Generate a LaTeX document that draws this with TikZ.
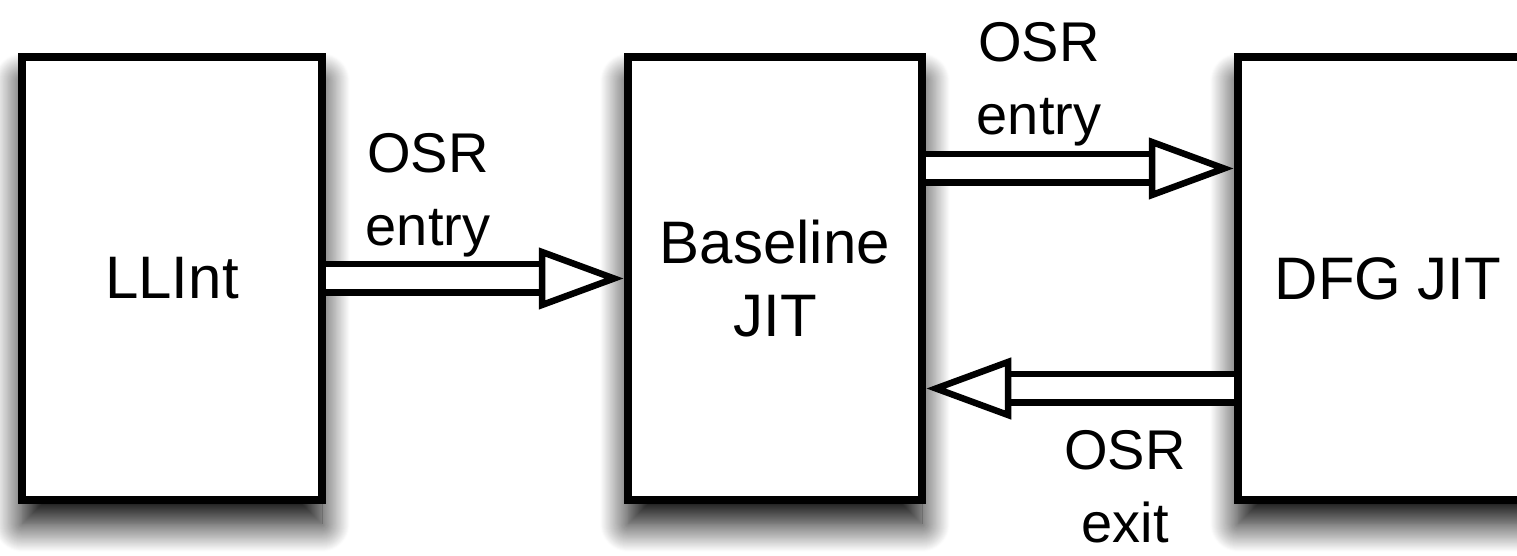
\documentclass[tikz,border=0pt]{standalone}
\usepackage{fontspec}
\setmainfont{Liberation Sans}
\usetikzlibrary{calc,positioning,shadows.blur}

\newcommand{\osrarrow}[3]{%
  \coordinate (#3b) at ($(#2)!36pt!(#1)$);
  \draw[osr shaft] (#1) -- (#3b);
  \draw[osr head] (#2) -- ($(#3b)!13.25pt!90:(#2)$) -- ($(#3b)!13.25pt!-90:(#2)$) -- cycle;
}

\begin{document}
\begin{tikzpicture}[x=0.5pt,y=0.5pt,
    stage/.style={draw,line width=4.25pt,fill=white,minimum width=150pt,minimum height=221.5pt,
      inner sep=0pt,outer sep=0pt,align=center,font=\fontsize{30}{36.5}\selectfont,
      blur shadow={shadow xshift=0pt,shadow yshift=-12pt,shadow blur radius=14pt,
        shadow blur steps=30,shadow opacity=100}},
    osrlabel/.style={align=center,inner sep=0pt,font=\fontsize{28}{36.5}\selectfont},
    osr shaft/.style={draw,line width=3.25pt,double=white,double distance=11pt},
    osr head/.style={draw,line width=3.25pt,fill=white,line join=miter}]
  \useasboundingbox (0,0) rectangle (1517,556);
  \clip (0,0) rectangle (1517,556);

  \node[stage] (llint) at (172,277.5) {LLInt};
  \node[stage,minimum width=147pt] (baseline) at (775,277.5) {Baseline\\JIT};
  \node[stage] (dfg) at (1388,277.5) {DFG JIT};

  \coordinate (s1) at ([xshift=2pt]llint.east);
  \coordinate (t1) at ([xshift=-7pt]baseline.west);
  \coordinate (s2) at ([xshift=2pt,yshift=55pt]baseline.east);
  \coordinate (t2) at ([xshift=-7pt,yshift=55pt]dfg.west);
  \coordinate (s3) at ([xshift=-2pt,yshift=-55pt]dfg.west);
  \coordinate (t3) at ([xshift=7pt,yshift=-55pt]baseline.east);

  \osrarrow{s1}{t1}{a}
  \osrarrow{s2}{t2}{b}
  \osrarrow{s3}{t3}{c}

  \node[osrlabel] (entry1) at (428,361) {OSR\\entry};
  \node[osrlabel] (entry2) at (1039,472) {OSR\\entry};
  \node[osrlabel] (exit1) at (1125,69) {OSR\\exit};
\end{tikzpicture}
\end{document}
